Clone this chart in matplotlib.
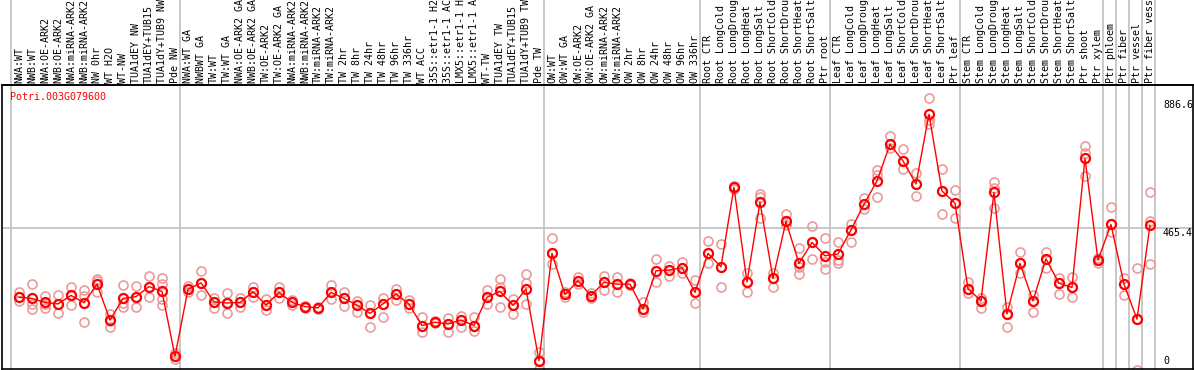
import matplotlib
matplotlib.use("Agg")
import matplotlib.pyplot as plt
import matplotlib.transforms as mtransforms

gene_id = "Potri.003G079600"

labels = [
    "NWA:WT", "NWB:WT", "NWA:OE-ARK2", "NWB:OE-ARK2", "NWA:miRNA-ARK2", "NWB:miRNA-ARK2",
    "NW 0hr", "WT H2O", "WT-NW", "TUA1dEY NW", "TUA1dEY+TUB15", "TUA1dY+TUB9 NW", "Pde NW",
    "NWA:WT GA", "NWBWT GA", "TW:WT", "TW:WT GA", "NWA:OE-ARK2 GA", "NWB:OE-ARK2 GA",
    "TW:OE-ARK2", "TW:OE-ARK2 GA", "NWA:miRNA-ARK2", "NWB:miRNA-ARK2", "TW:miRNA-ARK2",
    "TW:miRNA-ARK2", "TW 2hr", "TW 8hr", "TW 24hr", "TW 48hr", "TW 96hr", "TW 336hr",
    "WT ACC", "35S::etr1-1 H2", "35S::etr1-1 AC", "LMX5::etr1-1 H", "LMX5::etr1-1 A",
    "WT-TW", "TUA1dEY TW", "TUA1dEY+TUB15", "TUA1dY+TUB9 TW", "Pde TW",
    "OW:WT", "OW:WT GA", "OW:OE-ARK2", "OW:OE-ARK2 GA", "OW:miRNA-ARK2", "OW:miRNA-ARK2",
    "OW 2hr", "OW 8hr", "OW 24hr", "OW 48hr", "OW 96hr", "OW 336hr",
    "Root CTR", "Root LongCold", "Root LongDroug", "Root LongHeat", "Root LongSalt",
    "Root ShortCold", "Root ShortDrou", "Root ShortHeat", "Root ShortSalt", "Ptr root",
    "Leaf CTR", "Leaf LongCold", "Leaf LongDroug", "Leaf LongHeat", "Leaf LongSalt",
    "Leaf ShortCold", "Leaf ShortDrou", "Leaf ShortHeat", "Leaf ShortSalt", "Ptr leaf",
    "Stem CTR", "Stem LongCold", "Stem LongDroug", "Stem LongHeat", "Stem LongSalt",
    "Stem ShortCold", "Stem ShortDrou", "Stem ShortHeat", "Stem ShortSalt",
    "Ptr shoot", "Ptr xylem", "Ptr phloem", "Ptr fiber", "Ptr vessel", "Ptr fiber vess",
]

means = [
    239, 235, 222, 217, 245, 221, 282, 164, 235, 241, 274, 258, 45,
    265, 286, 224, 220, 222, 257, 213, 255, 222, 208, 204, 255, 235, 213, 186, 217,
    250, 216, 146, 157, 151, 164, 146, 239, 258, 212, 266, 30,
    383, 248, 293, 244, 288, 282, 282, 200, 326, 328, 336, 255,
    383, 339, 600, 289, 551, 301, 488, 350, 419, 375,
    381, 460, 544, 621, 741, 687, 611, 840, 588, 548,
    267, 227, 583, 184, 350, 227, 365, 285, 271,
    695, 361, 478, 282, 167, 475,
]

replicates = [
    [255, 239, 228], [282, 217, 200], [242, 217, 203], [246, 217, 186], [273, 245, 212],
    [263, 242, 157], [299, 293, 257], [183, 162, 140], [279, 221, 208], [276, 241, 208],
    [309, 274, 241], [301, 282, 232, 212], [55, 45, 35],
    [275, 265, 255], [325, 286, 246], [235, 224, 203], [252, 220, 186], [235, 222, 206],
    [274, 257, 241], [233, 213, 197], [274, 255, 235], [230, 222, 213], [211, 208, 205],
    [208, 204, 199], [279, 255, 233], [255, 235, 211], [228, 213, 189], [213, 186, 142],
    [235, 217, 175], [265, 250, 230], [230, 216, 203], [173, 146, 126], [160, 157, 153],
    [170, 151, 126], [178, 164, 142], [173, 146, 129], [263, 239, 217], [299, 274, 208],
    [233, 212, 184], [315, 285, 217], [60, 30, 2],
    [434, 383, 348], [257, 248, 239], [307, 293, 282], [252, 244, 235], [309, 288, 263],
    [307, 282, 257], [287, 282, 278], [224, 200, 189], [363, 326, 290], [342, 328, 309],
    [356, 336, 320], [296, 255, 219],
    [425, 383, 352], [414, 339, 271], [604, 600, 596], [317, 289, 255], [578, 569, 498],
    [317, 301, 271], [511, 488, 476], [400, 339, 314], [473, 419, 363], [432, 356, 331],
    [419, 361, 352], [479, 460, 421], [566, 544, 528], [657, 640, 569], [768, 741, 728],
    [725, 687, 659], [648, 611, 571], [892, 820, 808], [660, 588, 511], [591, 548, 500],
    [290, 267, 252], [235, 227, 203], [618, 597, 531], [206, 184, 142], [386, 350, 317],
    [246, 227, 189], [389, 365, 334], [303, 285, 250], [307, 271, 241],
    [736, 712, 638], [367, 361, 352], [534, 478, 454], [301, 282, 246], [334, 167, 0],
    [586, 490, 348],
]

scale_ticks = [886.6, 465.4, 0]
group_ends = [12, 40, 52, 62, 72, 83, 84, 85, 86, 87]

W, H = 1194, 370
fig = plt.figure(figsize=(W / 100, H / 100), dpi=100)
# main plotting axes (pixel box 2..1193 x 85..369)
ax = fig.add_axes([2 / W, 1 / H, 1191 / W, 284 / H])
ax.set_xlim(-1.308, 90.31)
ax.set_ylim(3.28, 936)
ax.set_facecolor("white")
for s in ["left", "bottom", "right", "top"]:
    ax.spines[s].set_color("black")
    ax.spines[s].set_linewidth(1.2)
ax.set_xticks([])
ax.set_yticks([])

mono = "DejaVu Sans Mono"
grey = "#c4c4c4"
red = "#ff0000"
pink = "#ec9a9a"

n = len(labels)
xs = list(range(n))

# grey guide lines
ax.axhline(465.4, color=grey, lw=1.3, zorder=1)
top_frac = 369 / 284
ax.axvline(-0.654, ymin=0, ymax=top_frac, color=grey, lw=1.3, clip_on=False, zorder=1)
for b in group_ends:
    ax.axvline(b + 0.42, ymin=0, ymax=top_frac, color=grey, lw=1.3, clip_on=False, zorder=1)

# header separator line
ax.plot([0, 1], [1, 1], transform=ax.transAxes, color="black", lw=1.2, clip_on=False)

# replicate points
for i, reps in enumerate(replicates):
    ax.plot([i] * len(reps), reps, linestyle="none", marker="o", ms=6.5,
            mfc="none", mec=pink, mew=1.2, zorder=2)

# mean line
ax.plot(xs, means, color=red, lw=1.0, zorder=3)
ax.plot(xs, means, linestyle="none", marker="o", ms=6.5, mfc="none", mec=red,
        mew=1.6, zorder=4)

# column labels
trans = mtransforms.blended_transform_factory(ax.transData, ax.transAxes)
for i, lab in enumerate(labels):
    ax.text(i, 1 + 2 / 284, lab, rotation=90, ha="center", va="bottom",
            fontsize=7.2, family=mono, transform=trans, clip_on=False)

# gene id
ax.text(-0.69, 1 - 12 / 284, gene_id, color=red, fontsize=7.2, family=mono,
        ha="left", va="center", transform=trans)

# right scale labels
for v in scale_ticks:
    if v == 0:
        t = mtransforms.offset_copy(ax.transData, fig=fig, x=0, y=4, units="dots")
        ax.text(88.0, v, "0", fontsize=7.2, family=mono, ha="left", va="bottom",
                transform=t, clip_on=False)
    else:
        ax.text(88.0, v, f"{v:.1f}", fontsize=7.2, family=mono, ha="left", va="top",
                clip_on=False)

fig.savefig("out.png", dpi=100, facecolor="white")
